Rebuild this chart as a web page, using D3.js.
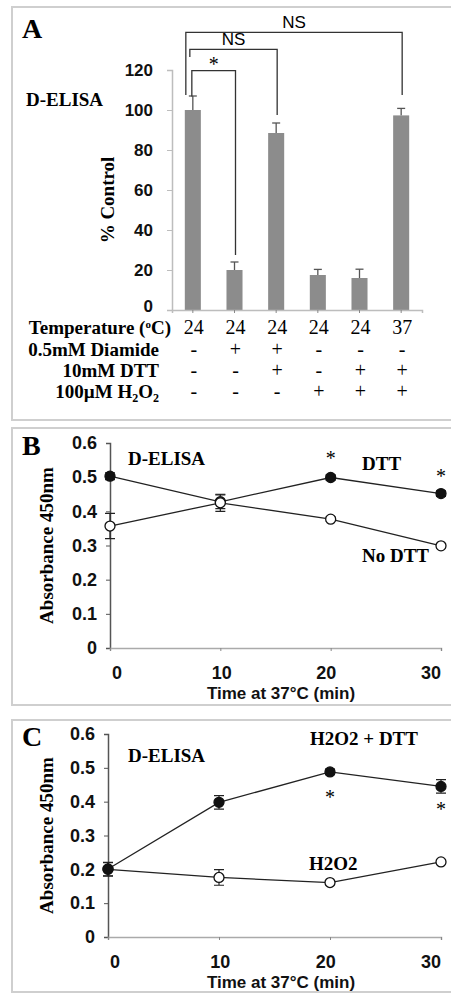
<html>
<head>
    <title>D-ELISA panels</title>
    <style>
        body { margin: 0; background: #fff; }
        .serif { font-family: "Liberation Serif", "Times New Roman", serif; }
        .sans { font-family: "Liberation Sans", Arial, sans-serif; }
        .bar { fill: #8c8c8c; }
        .frame { fill: none; stroke: #cfcfcf; stroke-width: 2px; }
        .serie { fill: none; stroke: #222; stroke-width: 1.3px; }
    </style>
</head>
<body>
    <div id="container"></div>
    <script src="https://d3js.org/d3.v7.min.js"></script>
    <script>
        // ---- panel A data ----
        let conditions = ['c1', 'c2', 'c3', 'c4', 'c5', 'c6'],
            barValues = [100, 20, 88.5, 17.5, 16, 97.3],
            barErrors = [7, 4, 5, 2.8, 4.4, 3.5],
            yTicksA = [0, 20, 40, 60, 80, 100, 120],
            tempRow = ['24', '24', '24', '24', '24', '37'],
            diamideRow = ['-', '+', '+', '-', '-', '-'],
            dttRow = ['-', '-', '+', '-', '+', '+'],
            h2o2Row = ['-', '-', '-', '+', '+', '+'];

        // significance brackets: from bar, to bar, top level, left end, right end (in % units)
        let brackets = [
            { from: 0, to: 1, top: 119.7, left: 106.7, right: 27.5, label: '*' },
            { from: 0, to: 2, top: 130.3, left: 126.5, right: 97.5, label: 'NS' },
            { from: 0, to: 5, top: 138.8, left: 107.5, right: 107.5, label: 'NS' }
        ];

        // ---- panels B and C data ----
        let times = [0, 10, 20, 30],
            yTicksBC = [0, 0.1, 0.2, 0.3, 0.4, 0.5, 0.6],
            bDtt = [0.503, 0.428, 0.499, 0.452],
            bDttErr = [0.01, 0.02, 0.008, 0.008],
            bNoDtt = [0.357, 0.425, 0.377, 0.299],
            bNoDttErr = [0.037, 0.025, 0.006, 0.006],
            cH2o2Dtt = [0.201, 0.398, 0.488, 0.445],
            cH2o2DttErr = [0.02, 0.02, 0.008, 0.02],
            cH2o2 = [0.2, 0.176, 0.161, 0.222],
            cH2o2Err = [0.02, 0.023, 0.006, 0.006];

        let width = 451, height = 994;
        let svg = d3.select('#container').append('svg')
            .attr('width', width)
            .attr('height', height);
        svg.append('rect').attr('width', width).attr('height', height).attr('fill', '#fff');

        // frames
        svg.append('rect').attr('class', 'frame').attr('x', 12).attr('y', 7).attr('width', 460).attr('height', 413);
        svg.append('rect').attr('class', 'frame').attr('x', 12).attr('y', 428).attr('width', 460).attr('height', 277);
        svg.append('rect').attr('class', 'frame').attr('x', 12).attr('y', 720).attr('width', 460).attr('height', 272);

        // ================= PANEL A =================
        let gA = svg.append('g');
        let xA = d3.scaleBand().domain(conditions).range([172, 422]).padding(0),
            yA = d3.scaleLinear().domain([0, 120]).range([310, 70]);
        let barW = xA.bandwidth() * 0.385;
        let cx = function (i) { return xA(conditions[i]) + xA.bandwidth() / 2; };

        let axA = gA.append('g')
            .attr('transform', 'translate(172,0)')
            .call(d3.axisLeft(yA).tickValues(yTicksA).tickSize(5).tickPadding(14).tickFormat(d3.format('d')));
        axA.select('.domain').attr('stroke', '#bdbdbd').attr('stroke-width', 1.5);
        axA.selectAll('.tick line').attr('stroke', '#bdbdbd');
        axA.selectAll('text').attr('class', 'sans').style('font-size', '17px').style('font-weight', 'bold').attr('fill', '#111');
        // the zero label sits tight above the table, lift it a little
        axA.selectAll('.tick').filter(function (d) { return d === 0; }).select('text').attr('dy', '0.1em');

        // error bars (upper half only)
        conditions.forEach(function (c, i) {
            let x = cx(i);
            gA.append('line').attr('x1', x).attr('x2', x)
                .attr('y1', yA(barValues[i])).attr('y2', yA(barValues[i] + barErrors[i]))
                .attr('stroke', '#555').attr('stroke-width', 1.3);
            gA.append('line').attr('x1', x - 4).attr('x2', x + 4)
                .attr('y1', yA(barValues[i] + barErrors[i])).attr('y2', yA(barValues[i] + barErrors[i]))
                .attr('stroke', '#555').attr('stroke-width', 1.3);
        });

        gA.selectAll('.bar')
            .data(barValues)
            .enter().append('rect')
            .attr('class', 'bar')
            .attr('x', function (d, i) { return cx(i) - barW / 2; })
            .attr('y', function (d) { return yA(d); })
            .attr('width', barW)
            .attr('height', function (d) { return yA(0) - yA(d); });

        let axAx = gA.append('g')
            .attr('transform', 'translate(0,' + yA(0) + ')')
            .call(d3.axisBottom(xA).tickSize(3).tickFormat(''));
        axAx.select('.domain').attr('stroke', '#bdbdbd').attr('stroke-width', 1.5);
        axAx.selectAll('.tick line').attr('stroke', '#888');

        // brackets
        let leftNudge = [-1, -3, -7];
        brackets.forEach(function (b, k) {
            let x1 = cx(b.from) + leftNudge[k], x2 = cx(b.to) + 1;
            gA.append('path')
                .attr('d', 'M' + x1 + ',' + yA(b.left) + 'V' + yA(b.top) + 'H' + x2 + 'V' + yA(b.right))
                .attr('fill', 'none').attr('stroke', '#333').attr('stroke-width', 1.3);
            let t = gA.append('text')
                .attr('x', (x1 + x2) / 2)
                .attr('text-anchor', 'middle')
                .text(b.label);
            if (b.label === '*') {
                t.attr('class', 'serif').attr('y', yA(b.top) - 0).style('font-size', '20px');
            } else {
                t.attr('class', 'sans').attr('y', yA(b.top) - 4).style('font-size', '17px');
            }
        });

        gA.append('text').attr('class', 'serif').attr('x', 22).attr('y', 38)
            .style('font-size', '28px').style('font-weight', 'bold').text('A');
        gA.append('text').attr('class', 'serif').attr('x', 26).attr('y', 106)
            .style('font-size', '19px').style('font-weight', 'bold').text('D-ELISA');
        gA.append('text').attr('class', 'serif')
            .attr('transform', 'translate(114,200) rotate(-90)')
            .attr('text-anchor', 'middle')
            .style('font-size', '19px').style('font-weight', 'bold').text('% Control');

        // condition table
        let tLabel = gA.append('text').attr('class', 'serif').attr('x', 171).attr('y', 334)
            .attr('text-anchor', 'end').style('font-size', '19px').style('font-weight', 'bold');
        tLabel.append('tspan').text('Temperature (');
        tLabel.append('tspan').attr('dy', -6).style('font-size', '11px').text('o');
        tLabel.append('tspan').attr('dy', 6).text('C)');
        gA.append('text').attr('class', 'serif').attr('x', 159).attr('y', 356)
            .attr('text-anchor', 'end').style('font-size', '19px').style('font-weight', 'bold').text('0.5mM Diamide');
        gA.append('text').attr('class', 'serif').attr('x', 159).attr('y', 377)
            .attr('text-anchor', 'end').style('font-size', '19px').style('font-weight', 'bold').text('10mM DTT');
        let hLabel = gA.append('text').attr('class', 'serif').attr('x', 159).attr('y', 398)
            .attr('text-anchor', 'end').style('font-size', '19px').style('font-weight', 'bold');
        hLabel.append('tspan').text('100\u00b5M H');
        hLabel.append('tspan').attr('dy', 4).style('font-size', '12px').text('2');
        hLabel.append('tspan').attr('dy', -4).text('O');
        hLabel.append('tspan').attr('dy', 4).style('font-size', '12px').text('2');

        [[tempRow, 334], [diamideRow, 356], [dttRow, 377], [h2o2Row, 398]].forEach(function (r) {
            gA.selectAll(null)
                .data(r[0])
                .enter().append('text')
                .attr('class', 'serif')
                .attr('x', function (d, i) { return cx(i) + 1; })
                .attr('y', r[1])
                .attr('text-anchor', 'middle')
                .style('font-size', '20px')
                .text(function (d) { return d; });
        });

        // ================= PANELS B and C =================
        function linePanel(opts) {
            let g = svg.append('g');
            let x = d3.scaleLinear().domain([0, 30]).range([opts.x0, 441]),
                y = d3.scaleLinear().domain([0, 0.6]).range([opts.y0, opts.y1]),
                xl = d3.scaleLinear().domain([0, 30]).range([opts.x0 + 7, 431]);

            let ay = g.append('g')
                .attr('transform', 'translate(' + opts.x0 + ',0)')
                .call(d3.axisLeft(y).tickValues(yTicksBC).tickSize(4).tickPadding(9)
                    .tickFormat(function (d) { return d === 0 ? '0' : d3.format('.1f')(d); }));
            ay.select('.domain').attr('stroke', '#555').attr('stroke-width', 1.5);
            ay.selectAll('.tick line').attr('stroke', '#555');
            ay.selectAll('text').attr('class', 'sans').style('font-size', '18px').style('font-weight', 'bold').attr('fill', '#111');

            let ax = g.append('g')
                .attr('transform', 'translate(0,' + opts.y0 + ')')
                .call(d3.axisBottom(x).tickValues(times).tickSize(3).tickFormat(''));
            ax.select('.domain').attr('stroke', '#aaa').attr('stroke-width', 1.5);
            ax.selectAll('.tick line').attr('stroke', '#888');

            g.selectAll('.xlab')
                .data(times)
                .enter().append('text')
                .attr('class', 'sans')
                .attr('x', function (d) { return xl(d); })
                .attr('y', opts.y0 + 31)
                .attr('text-anchor', 'middle')
                .style('font-size', '18px').style('font-weight', 'bold').attr('fill', '#111')
                .text(function (d) { return d; });

            g.append('text').attr('class', 'sans')
                .attr('x', 281).attr('y', opts.y0 + 51)
                .attr('text-anchor', 'middle')
                .style('font-size', '17px').style('font-weight', 'bold').attr('fill', '#111')
                .text('Time at 37\u00b0C (min)');

            g.append('text').attr('class', 'serif')
                .attr('transform', 'translate(53,' + ((opts.y0 + opts.y1) / 2 + 0) + ') rotate(-90)')
                .attr('text-anchor', 'middle')
                .style('font-size', '19px').style('font-weight', 'bold')
                .text('Absorbance 450nm');

            g.append('text').attr('class', 'serif').attr('x', 22).attr('y', opts.y1 + 12)
                .style('font-size', '28px').style('font-weight', 'bold').text(opts.letter);

            let line = d3.line()
                .x(function (d, i) { return x(times[i]); })
                .y(function (d) { return y(d); });

            opts.series.forEach(function (s) {
                g.append('path').datum(s.values).attr('class', 'serie').attr('d', line);
            });
            opts.series.forEach(function (s) {
                s.values.forEach(function (v, i) {
                    let e = s.errors[i], px = x(times[i]);
                    g.append('path')
                        .attr('d', 'M' + px + ',' + y(v - e) + 'V' + y(v + e) +
                            'M' + (px - 5) + ',' + y(v - e) + 'H' + (px + 5) +
                            'M' + (px - 5) + ',' + y(v + e) + 'H' + (px + 5))
                        .attr('fill', 'none').attr('stroke', '#222').attr('stroke-width', 1.2);
                });
                g.selectAll(null)
                    .data(s.values)
                    .enter().append('circle')
                    .attr('cx', function (d, i) { return x(times[i]); })
                    .attr('cy', function (d) { return y(d); })
                    .attr('r', 5)
                    .attr('fill', s.filled ? '#111' : '#fff')
                    .attr('stroke', '#111')
                    .attr('stroke-width', 1.3);
            });

            opts.stars.forEach(function (st) {
                let s = opts.series[st.series];
                g.append('text').attr('class', 'serif')
                    .attr('x', x(times[st.i]))
                    .attr('y', y(s.values[st.i]) + st.dy)
                    .attr('text-anchor', 'middle')
                    .style('font-size', '20px')
                    .text('*');
            });

            opts.labels.forEach(function (l) {
                g.append('text').attr('class', 'serif')
                    .attr('x', l.x).attr('y', l.y)
                    .style('font-size', '19px').style('font-weight', 'bold')
                    .text(l.text);
            });
        }

        linePanel({
            letter: 'B', x0: 110, y0: 648, y1: 443,
            series: [
                { values: bDtt, errors: bDttErr, filled: true },
                { values: bNoDtt, errors: bNoDttErr, filled: false }
            ],
            stars: [{ series: 0, i: 2, dy: -13 }, { series: 0, i: 3, dy: -11 }],
            labels: [
                { x: 128, y: 465, text: 'D-ELISA' },
                { x: 362, y: 470, text: 'DTT' },
                { x: 362, y: 562, text: 'No DTT' }
            ]
        });

        linePanel({
            letter: 'C', x0: 108, y0: 937, y1: 734,
            series: [
                { values: cH2o2, errors: cH2o2Err, filled: false },
                { values: cH2o2Dtt, errors: cH2o2DttErr, filled: true }
            ],
            stars: [{ series: 1, i: 2, dy: 32 }, { series: 1, i: 3, dy: 30 }],
            labels: [
                { x: 128, y: 762, text: 'D-ELISA' },
                { x: 310, y: 745, text: 'H2O2 + DTT' },
                { x: 309, y: 870, text: 'H2O2' }
            ]
        });
    </script>
</body>
</html>
